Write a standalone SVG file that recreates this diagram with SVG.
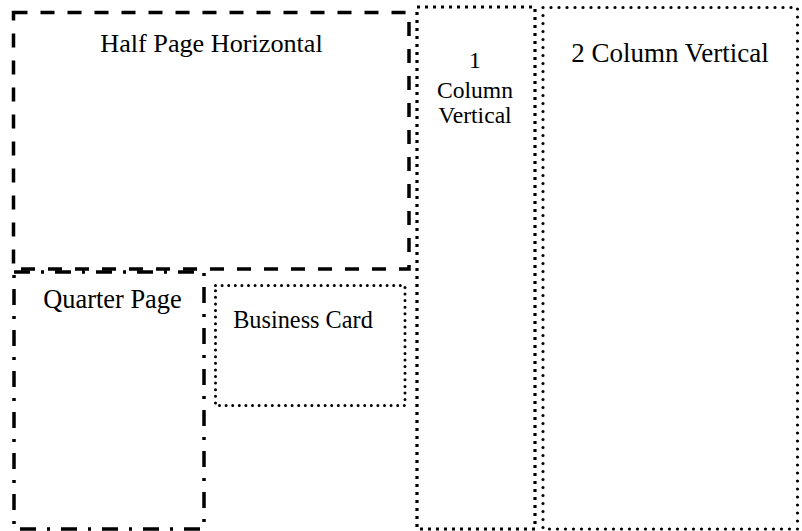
<svg xmlns="http://www.w3.org/2000/svg" width="802" height="531" viewBox="0 0 802 531">
<style>
.t{font-family:"Liberation Serif","Times New Roman",serif;fill:#000;text-anchor:middle}
.box{fill:none;stroke:#000}
.dash{stroke-width:3.5;stroke-dasharray:14 13}
.dashdot{stroke-width:3.5;stroke-dasharray:16 11 3 11}
.sq{stroke-width:3.2;stroke-dasharray:3 5}
.rd{stroke-width:3.2;stroke-linecap:round;stroke-dasharray:0 8}
.rd2{stroke-width:3;stroke-linecap:round;stroke-dasharray:0 6.6}
</style>
<rect width="802" height="531" fill="#fff"/>
<g id="half-page">
<rect class="box dash" x="13.5" y="12.5" width="395.5" height="256.5"/>
<text class="t" x="211.5" y="52" font-size="26.2">Half Page Horizontal</text>
</g>
<g id="one-column">
<rect class="box sq" x="417" y="7" width="118" height="522"/>
<text class="t" x="475" y="68" font-size="23.6">1</text>
<text class="t" x="475" y="98" font-size="23.6">Column</text>
<text class="t" x="475" y="123" font-size="23.6">Vertical</text>
</g>
<g id="two-column">
<rect class="box rd" x="543" y="7.5" width="254.5" height="521.5"/>
<text class="t" x="670" y="62" font-size="27">2 Column Vertical</text>
</g>
<g id="quarter-page">
<rect class="box dashdot" x="14" y="272" width="190" height="257"/>
<text class="t" x="112.5" y="308" font-size="26.4">Quarter Page</text>
</g>
<g id="business-card">
<rect class="box rd2" x="215.5" y="285.5" width="189.5" height="120"/>
<text class="t" x="303" y="328" font-size="24.3">Business Card</text>
</g>
<g id="connectors"></g>
</svg>
